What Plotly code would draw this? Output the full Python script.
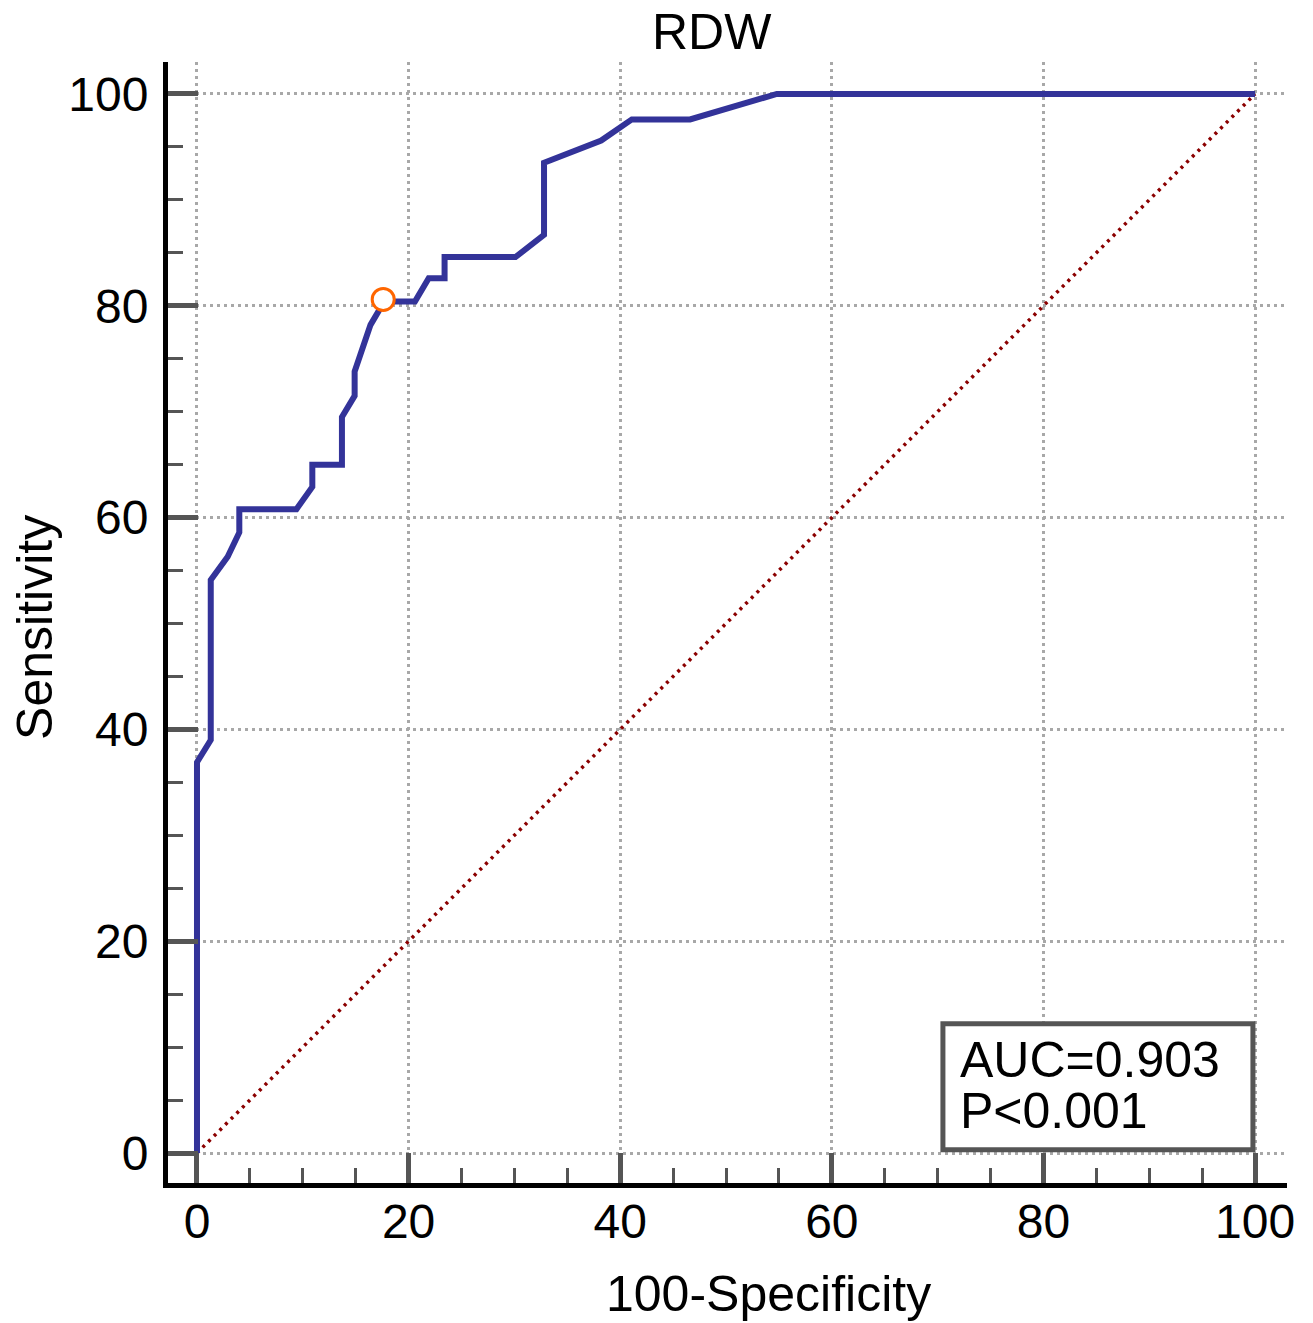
import plotly.graph_objects as go

# ROC curve points (100-Specificity, Sensitivity)
fpr = [0, 0, 1.3, 1.3, 2.9, 4.0, 4.0, 9.4, 10.9, 10.9, 13.7, 13.7, 14.9, 14.9,
       16.4, 17.3, 17.7, 20.6, 21.9, 23.4, 23.4, 30.1, 32.8, 32.8, 38.2, 41.1,
       46.6, 54.8, 100]
tpr = [0, 36.9, 39.0, 54.1, 56.3, 58.6, 60.8, 60.8, 62.9, 65.0, 65.0, 69.5,
       71.5, 73.8, 78.2, 79.9, 80.4, 80.4, 82.6, 82.6, 84.6, 84.6, 86.7, 93.5,
       95.6, 97.6, 97.6, 100, 100]

# optimal cut-off point
cut_x = [17.6]
cut_y = [80.6]

# reference diagonal
ref_x = [0, 100]
ref_y = [0, 100]

tick_vals = [0, 20, 40, 60, 80, 100]
tick_text = ["0", "20", "40", "60", "80", "100"]

title_text = "RDW"
x_title = "100-Specificity"
y_title = "Sensitivity"
auc_text = "AUC=0.903"
p_text = "P<0.001"

FONT = "Liberation Sans, Arial, sans-serif"
FS = 48
FS_T = 50

fig = go.Figure()
fig.add_trace(go.Scatter(x=ref_x, y=ref_y, mode="lines",
                         line=dict(color="#8B0000", width=3.5, dash="3px,5px"),
                         hoverinfo="skip", showlegend=False))
fig.add_trace(go.Scatter(x=fpr, y=tpr, mode="lines",
                         line=dict(color="#333399", width=6),
                         showlegend=False))
fig.add_trace(go.Scatter(x=cut_x, y=cut_y, mode="markers",
                         marker=dict(symbol="circle", size=22, color="white",
                                     line=dict(color="#FF6600", width=3)),
                         showlegend=False))

axis_common = dict(
    tickmode="array", tickvals=tick_vals, ticktext=tick_text,
    ticks="inside", ticklen=30, tickwidth=5, tickcolor="#555555",
    showline=True, linecolor="black", linewidth=5,
    showgrid=True, gridcolor="#A8A8A8", gridwidth=3, griddash="3px,4px",
    zeroline=False,
    tickfont=dict(family=FONT, size=FS, color="black"),
    minor=dict(ticks="inside", ticklen=15, tickwidth=3, tickcolor="#555555",
               dtick=5, tick0=0, showgrid=False),
    fixedrange=True,
)

fig.update_layout(
    width=1313, height=1323,
    margin=dict(l=168, r=26, t=62, b=140),
    plot_bgcolor="white", paper_bgcolor="white",
    xaxis=dict(**axis_common, range=[-2.74, 103.02], ticklabelstandoff=-8),
    yaxis=dict(**axis_common, range=[-2.83, 103.02], ticklabelstandoff=5),
    font=dict(family=FONT, size=FS, color="black"),
    shapes=[dict(type="rect", xref="x", yref="y", x0=70.5, x1=99.8, y0=0.3, y1=12.2,
                 line=dict(color="#555555", width=5), fillcolor="white", layer="above")],
    annotations=[
        dict(text=title_text, x=0.4861, y=1.0268, xref="paper", yref="paper",
             showarrow=False, xanchor="center", yanchor="middle",
             font=dict(family=FONT, size=FS_T, color="black")),
        dict(text=x_title, x=0.5362, y=-0.0990, xref="paper", yref="paper",
             showarrow=False, xanchor="center", yanchor="middle",
             font=dict(family=FONT, size=FS_T, color="black")),
        dict(text=y_title, x=-0.1189, y=0.496, xref="paper", yref="paper",
             showarrow=False, xanchor="center", yanchor="middle", textangle=-90,
             font=dict(family=FONT, size=FS_T, color="black")),
        dict(text=auc_text, x=71.9, y=8.8, xref="x", yref="y",
             showarrow=False, xanchor="left", yanchor="middle",
             font=dict(family=FONT, size=FS_T, color="black")),
        dict(text=p_text, x=71.9, y=4.0, xref="x", yref="y",
             showarrow=False, xanchor="left", yanchor="middle",
             font=dict(family=FONT, size=FS_T, color="black")),
    ],
)

fig.write_html("out.html", config={"displayModeBar": False},
               post_script="document.body.style.margin='0';")
